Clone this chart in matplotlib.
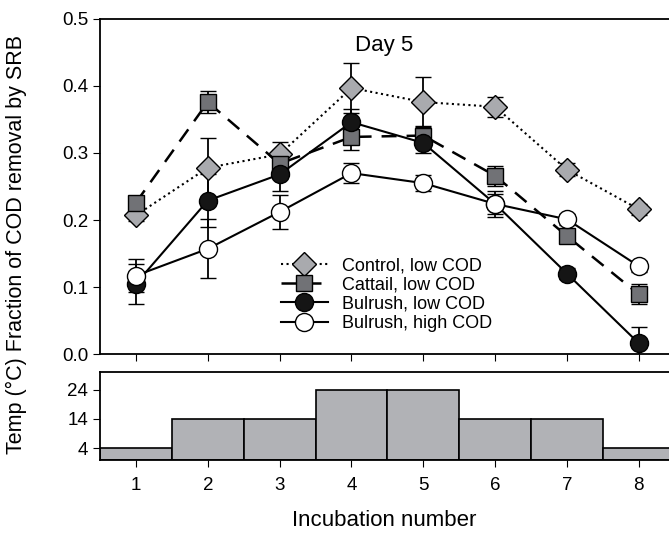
import numpy as np
import matplotlib.pyplot as plt

plt.rcParams['font.family'] = ['Liberation Sans', 'DejaVu Sans']

incubation = np.arange(1, 9)

control_low = [0.207, 0.278, 0.298, 0.397, 0.376, 0.369, 0.275, 0.216]
control_err = [0.008, 0.045, 0.018, 0.038, 0.037, 0.015, 0.010, 0.008]

cattail_low = [0.226, 0.376, 0.284, 0.324, 0.326, 0.266, 0.176, 0.089]
cattail_err = [0.010, 0.017, 0.020, 0.020, 0.015, 0.015, 0.008, 0.015]

bulrush_low = [0.105, 0.229, 0.268, 0.346, 0.315, 0.224, 0.120, 0.016]
bulrush_low_err = [0.030, 0.040, 0.025, 0.020, 0.015, 0.020, 0.008, 0.025]

bulrush_high = [0.117, 0.157, 0.212, 0.270, 0.255, 0.224, 0.201, 0.131]
bulrush_high_err = [0.025, 0.044, 0.025, 0.015, 0.012, 0.015, 0.008, 0.008]

temps = [4, 14, 14, 24, 24, 14, 14, 4]

fig = plt.figure(figsize=(6.69, 5.35), dpi=100)
ax = fig.add_axes([0.1495, 0.3383, 0.8505, 0.6262])
ax2 = fig.add_axes([0.1495, 0.1402, 0.8505, 0.1645])

err_kw = dict(capsize=6, elinewidth=1.3, capthick=1.3, ecolor='black')

c1 = ax.errorbar(incubation, control_low, yerr=control_err, color='black', ls=':',
                 lw=1.5, marker='D', ms=12, mfc='#a9aaae', mec='black', mew=1,
                 label='Control, low COD', **err_kw)
c2 = ax.errorbar(incubation, cattail_low, yerr=cattail_err, color='black', ls=(0, (6, 4)),
                 lw=1.8, marker='s', ms=12, mfc='#717276', mec='black', mew=1,
                 label='Cattail, low COD', **err_kw)
c3 = ax.errorbar(incubation, bulrush_low, yerr=bulrush_low_err, color='black', ls='-',
                 lw=1.5, marker='o', ms=13, mfc='#151515', mec='black', mew=1,
                 label='Bulrush, low COD', **err_kw)
c4 = ax.errorbar(incubation, bulrush_high, yerr=bulrush_high_err, color='black', ls='-',
                 lw=1.5, marker='o', ms=13, mfc='white', mec='black', mew=1,
                 label='Bulrush, high COD', **err_kw)

ax.set_xlim(0.5, 8.42)
ax.set_ylim(0, 0.5)
ax.set_yticks([0.0, 0.1, 0.2, 0.3, 0.4, 0.5])
ax.set_xticks(incubation)
ax.tick_params(axis='x', labelbottom=False, direction='out', length=5)
ax.tick_params(axis='y', labelsize=13.5, direction='out', length=5)
ax.spines['right'].set_visible(False)
ax.text(0.5, 0.922, 'Day 5', transform=ax.transAxes, ha='center', va='center',
        fontsize=16)

# legend without the error bars, lines only
handles = [c[0] for c in (c1, c2, c3, c4)]
labels = [c.get_label() for c in (c1, c2, c3, c4)]
leg = ax.legend(handles, labels, loc='upper left', bbox_to_anchor=(0.305, 0.31),
                frameon=False, fontsize=13, labelspacing=0.12, handlelength=2.6,
                handletextpad=0.8, borderaxespad=0)

ax2.bar(incubation, temps, width=1, color='#b1b2b6', edgecolor='black', lw=1.2)
ax2.set_xlim(0.5, 8.42)
ax2.set_ylim(0, 30)
ax2.set_yticks([4, 14, 24])
ax2.set_xticks(incubation)
ax2.tick_params(axis='both', labelsize=13.5, direction='out', length=5)
ax2.tick_params(axis='x', pad=7)
ax2.spines['right'].set_visible(False)
ax2.set_xlabel('Incubation number', fontsize=16, labelpad=12)

for a in (ax, ax2):
    for s in a.spines.values():
        s.set_linewidth(1.3)

fig.text(0.024, 1 - 245 / 535, 'Temp (°C) Fraction of COD removal by SRB',
         rotation=90, ha='center', va='center', fontsize=15.5)

fig.savefig('out.png', dpi=100)
